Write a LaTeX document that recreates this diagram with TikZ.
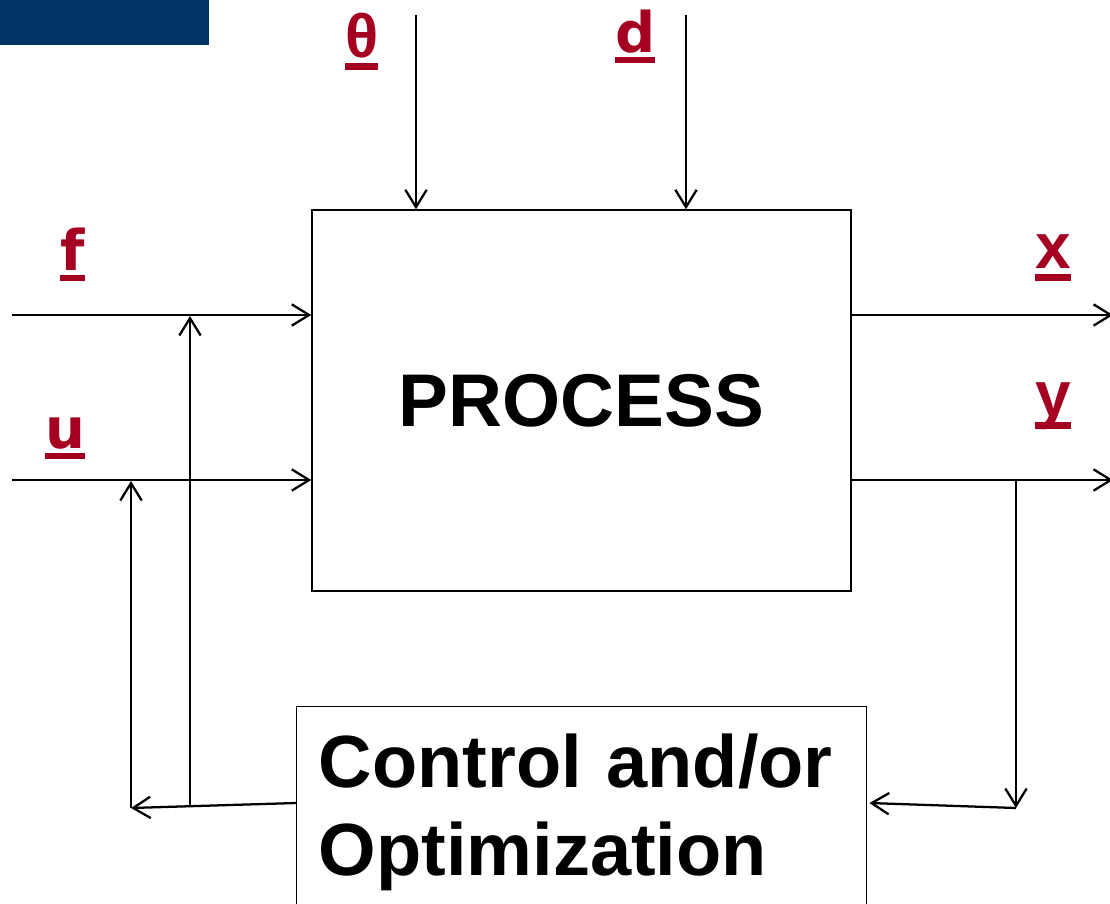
\documentclass[tikz,border=0pt]{standalone}
\usepackage{fontspec}
\setmainfont{Liberation Sans}
\newfontfamily\labelfont{DejaVu Sans}
\usetikzlibrary{arrows.meta,calc}
\definecolor{navyband}{HTML}{003366}
\definecolor{sigred}{HTML}{A50021}
% bold label with a thick underline spanning its advance width
\newcommand\ulsig[1]{\setbox0\hbox{#1}\rlap{\rule[-0.205em]{\wd0}{0.115em}}\box0}
\tikzset{
  wire/.style={line width=1.7pt},
  arr/.style={wire, -{Straight Barb[length=13pt,width=16pt]}},
  block/.style={draw, line width=1.1pt, inner sep=0pt},
  sig/.style={text=sigred, inner sep=0pt, anchor=base west},
  sigA/.style={sig, font=\labelfont\bfseries\fontsize{42pt}{42pt}\selectfont},
  sigB/.style={sig, font=\bfseries\fontsize{48pt}{48pt}\selectfont},
  sigC/.style={sig, font=\bfseries\fontsize{46pt}{46pt}\selectfont},
}
\begin{document}
\begin{tikzpicture}[x=0.75pt,y=-0.75pt]
\useasboundingbox (0,0) rectangle (1110,903);
\clip (0,0) rectangle (1110,903);

% header band
\fill[navyband] (0,0) rectangle (209,45);

% blocks
\node[block, minimum width=404.25pt, minimum height=285.75pt,
      font=\bfseries\fontsize{56pt}{56pt}\selectfont] (process) at (581.5,400.5) {PROCESS};
\node[block, anchor=north west, text width=394.5pt, align=left,
      inner xsep=16.5pt, inner ysep=0pt, text height=60.75pt, text depth=160pt,
      font=\bfseries\fontsize{55.5pt}{66pt}\selectfont] (control) at (296,706)
      {Control and/or\\Optimization};

% signal labels
\node[sigC] (thetaLab) at (345,57) {\ulsig{θ}};
\node[sigA] (dLab) at (615,52) {\ulsig{d}};
\node[sigA] (fLab) at (60,270) {\ulsig{f}};
\node[sigA] (uLab) at (45,448) {\ulsig{u}};
\node[sigB] (xLab) at (1035,268) {\ulsig{x}};
\node[sigB] (yLab) at (1035,416) {\ulsig{y}};

% connector ends
\coordinate (thetaSrc) at (416,15);
\coordinate (dSrc) at (686,15);
\coordinate (fSrc) at (12,315);
\coordinate (uSrc) at (12,480);
\coordinate (xDst) at (1113,315);
\coordinate (yDst) at (1113,480);
\coordinate (yTap) at (1016,480);
\coordinate (fbRight) at (1016,808);
\coordinate (fbLeft) at (131,808);
\coordinate (fbMid) at (190,807);

% inputs and outputs
\draw[arr] (thetaSrc) -- (thetaSrc |- process.north);
\draw[arr] (dSrc) -- (dSrc |- process.north);
\draw[arr] (fSrc) -- (fSrc -| process.west);
\draw[arr] (uSrc) -- (uSrc -| process.west);
\draw[arr] (fSrc -| process.east) -- (xDst);
\draw[arr] (uSrc -| process.east) -- (yDst);

% feedback loop
\draw[arr] (yTap) -- (fbRight);
\draw[arr] (fbRight) -- ($(control.north east)+(2,97)$);
\draw[arr] ($(control.north west)+(0,97)$) -- (fbLeft);
\draw[arr] (fbLeft) -- ($(fbLeft |- uSrc)+(0,1)$);
\draw[arr] (fbMid) -- ($(fbMid |- fSrc)+(0,1)$);
\end{tikzpicture}
\end{document}
